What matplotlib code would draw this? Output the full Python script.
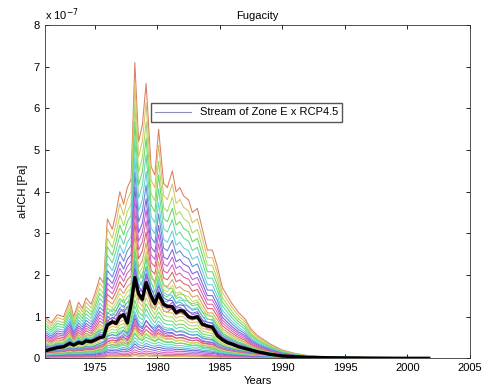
import colorsys
import numpy as np
import matplotlib
matplotlib.use("Agg")
import matplotlib.pyplot as plt
from matplotlib.lines import Line2D

plt.rcParams['font.family'] = ['Liberation Sans', 'DejaVu Sans']

# time grid (years) shared by the member profiles
years = [1971.0, 1971.5, 1972.0, 1972.5, 1973.0, 1973.3, 1973.7, 1974.0, 1974.3, 1974.7,
         1975.0, 1975.4, 1975.7, 1976.0, 1976.4, 1976.7, 1977.0, 1977.3, 1977.6, 1977.9,
         1978.2, 1978.5, 1978.8, 1979.1, 1979.5, 1979.8, 1980.1, 1980.5, 1980.8, 1981.2,
         1981.5, 1981.8, 1982.1, 1982.5, 1982.8, 1983.2, 1983.6, 1984.0, 1984.4, 1984.8,
         1985.2, 1985.6, 1986.0, 1986.5, 1987.0, 1987.5, 1988.0, 1989.0, 1990.0, 1991.0,
         1992.0, 1993.0, 1994.0, 1995.0, 1996.0, 1997.0, 1998.0, 1998.5]

# aHCH fugacity, units of 1e-7 Pa
top_profile = [1.0, 0.85, 1.05, 1.0, 1.4, 1.0, 1.35, 1.2, 1.45, 1.3,
               1.55, 1.95, 1.8, 3.35, 3.1, 3.5, 4.0, 3.7, 4.1, 4.3,
               7.1, 5.2, 5.6, 6.6, 4.6, 4.4, 5.5, 4.2, 4.1, 4.5,
               4.0, 4.1, 3.9, 3.8, 3.5, 3.6, 3.1, 2.6, 2.6, 2.2,
               1.7, 1.5, 1.3, 1.1, 0.95, 0.7, 0.55, 0.35, 0.2, 0.12,
               0.07, 0.05, 0.04, 0.04, 0.03, 0.02, 0.015, 0.01]

mean_profile = [0.18, 0.22, 0.26, 0.28, 0.36, 0.32, 0.38, 0.36, 0.42, 0.40,
                0.44, 0.50, 0.52, 0.80, 0.88, 0.84, 1.00, 1.05, 0.85, 1.30,
                1.94, 1.55, 1.42, 1.82, 1.50, 1.32, 1.55, 1.30, 1.25, 1.24,
                1.10, 1.15, 1.13, 1.00, 0.97, 1.00, 0.82, 0.78, 0.75, 0.55,
                0.45, 0.38, 0.34, 0.28, 0.24, 0.20, 0.16, 0.10, 0.06, 0.04,
                0.025, 0.02, 0.015, 0.012, 0.01, 0.008, 0.006, 0.005]

low_profile = [0.10, 0.12, 0.13, 0.14, 0.17, 0.15, 0.17, 0.16, 0.19, 0.18,
               0.20, 0.24, 0.26, 0.36, 0.38, 0.36, 0.40, 0.44, 0.40, 0.48,
               0.70, 0.55, 0.50, 0.60, 0.52, 0.48, 0.54, 0.47, 0.45, 0.46,
               0.42, 0.43, 0.42, 0.39, 0.37, 0.38, 0.33, 0.31, 0.30, 0.24,
               0.20, 0.17, 0.15, 0.13, 0.11, 0.09, 0.075, 0.05, 0.03, 0.02,
               0.014, 0.01, 0.008, 0.007, 0.006, 0.005, 0.004, 0.003]

# ensemble members: scale of each member relative to its profile (read from peak heights)
top_scales = [1.0, 0.93, 0.86, 0.80, 0.74, 0.68, 0.63, 0.58, 0.54, 0.50,
              0.46, 0.42, 0.39, 0.36, 0.33, 0.30, 0.27]
mean_scales = [1.35, 1.22, 1.12, 1.03, 0.95, 0.88, 0.80, 0.72, 0.65, 0.58,
               0.50, 0.44, 0.38, 0.32]
low_scales = [1.5, 1.3, 1.15, 1.0, 0.85, 0.72, 0.6, 0.5, 0.4, 0.3, 0.22, 0.15, 0.1]

# black line continues after the members stop
mean_tail_years = [1999.0, 2000.0, 2001.0, 2001.7]
mean_tail = [0.004, 0.003, 0.003, 0.003]

legend_label = "Stream of Zone E x RCP4.5"

fig = plt.figure(figsize=(4.82, 3.85), dpi=100)
ax = fig.add_axes([0.093, 0.069, 0.882, 0.866])

members = ([(top_profile, s) for s in top_scales] +
           [(mean_profile, s) for s in mean_scales] +
           [(low_profile, s) for s in low_scales])
members.sort(key=lambda m: -max(m[0]) * m[1])

for i, (prof, s) in enumerate(members):
    h = (0.04 + i * 0.095) % 1.0
    col = colorsys.hsv_to_rgb(h, 0.55, 0.85)
    ax.plot(years, np.array(prof) * s, color=col, lw=0.75)

ax.plot(years + mean_tail_years, mean_profile + mean_tail, color='black', lw=2.4)

ax.set_xlim(1971, 2005)
ax.set_ylim(0, 8)
ax.set_xticks(range(1975, 2006, 5))
ax.set_yticks(range(0, 9))
ax.tick_params(direction='in', top=True, right=True, labelsize=8, length=3, width=0.6)
for sp in ax.spines.values():
    sp.set_linewidth(0.6)
    sp.set_color('#333333')

ax.text(0.0, 1.005, r'x 10$^{-7}$', transform=ax.transAxes, fontsize=8, ha='left', va='bottom')
ax.set_title('Fugacity', fontsize=8, pad=4)
ax.set_xlabel('Years', fontsize=8, labelpad=2)
ax.set_ylabel('aHCH [Pa]', fontsize=8, labelpad=4)

proxy = Line2D([], [], color='#8c8cb8', lw=0.8)
ax.legend([proxy], [legend_label], loc='upper left', bbox_to_anchor=(0.249, 0.766),
          borderaxespad=0, fontsize=8, fancybox=False, edgecolor='#555555',
          framealpha=1, handlelength=3.2)

fig.savefig('out.png', dpi=100)
